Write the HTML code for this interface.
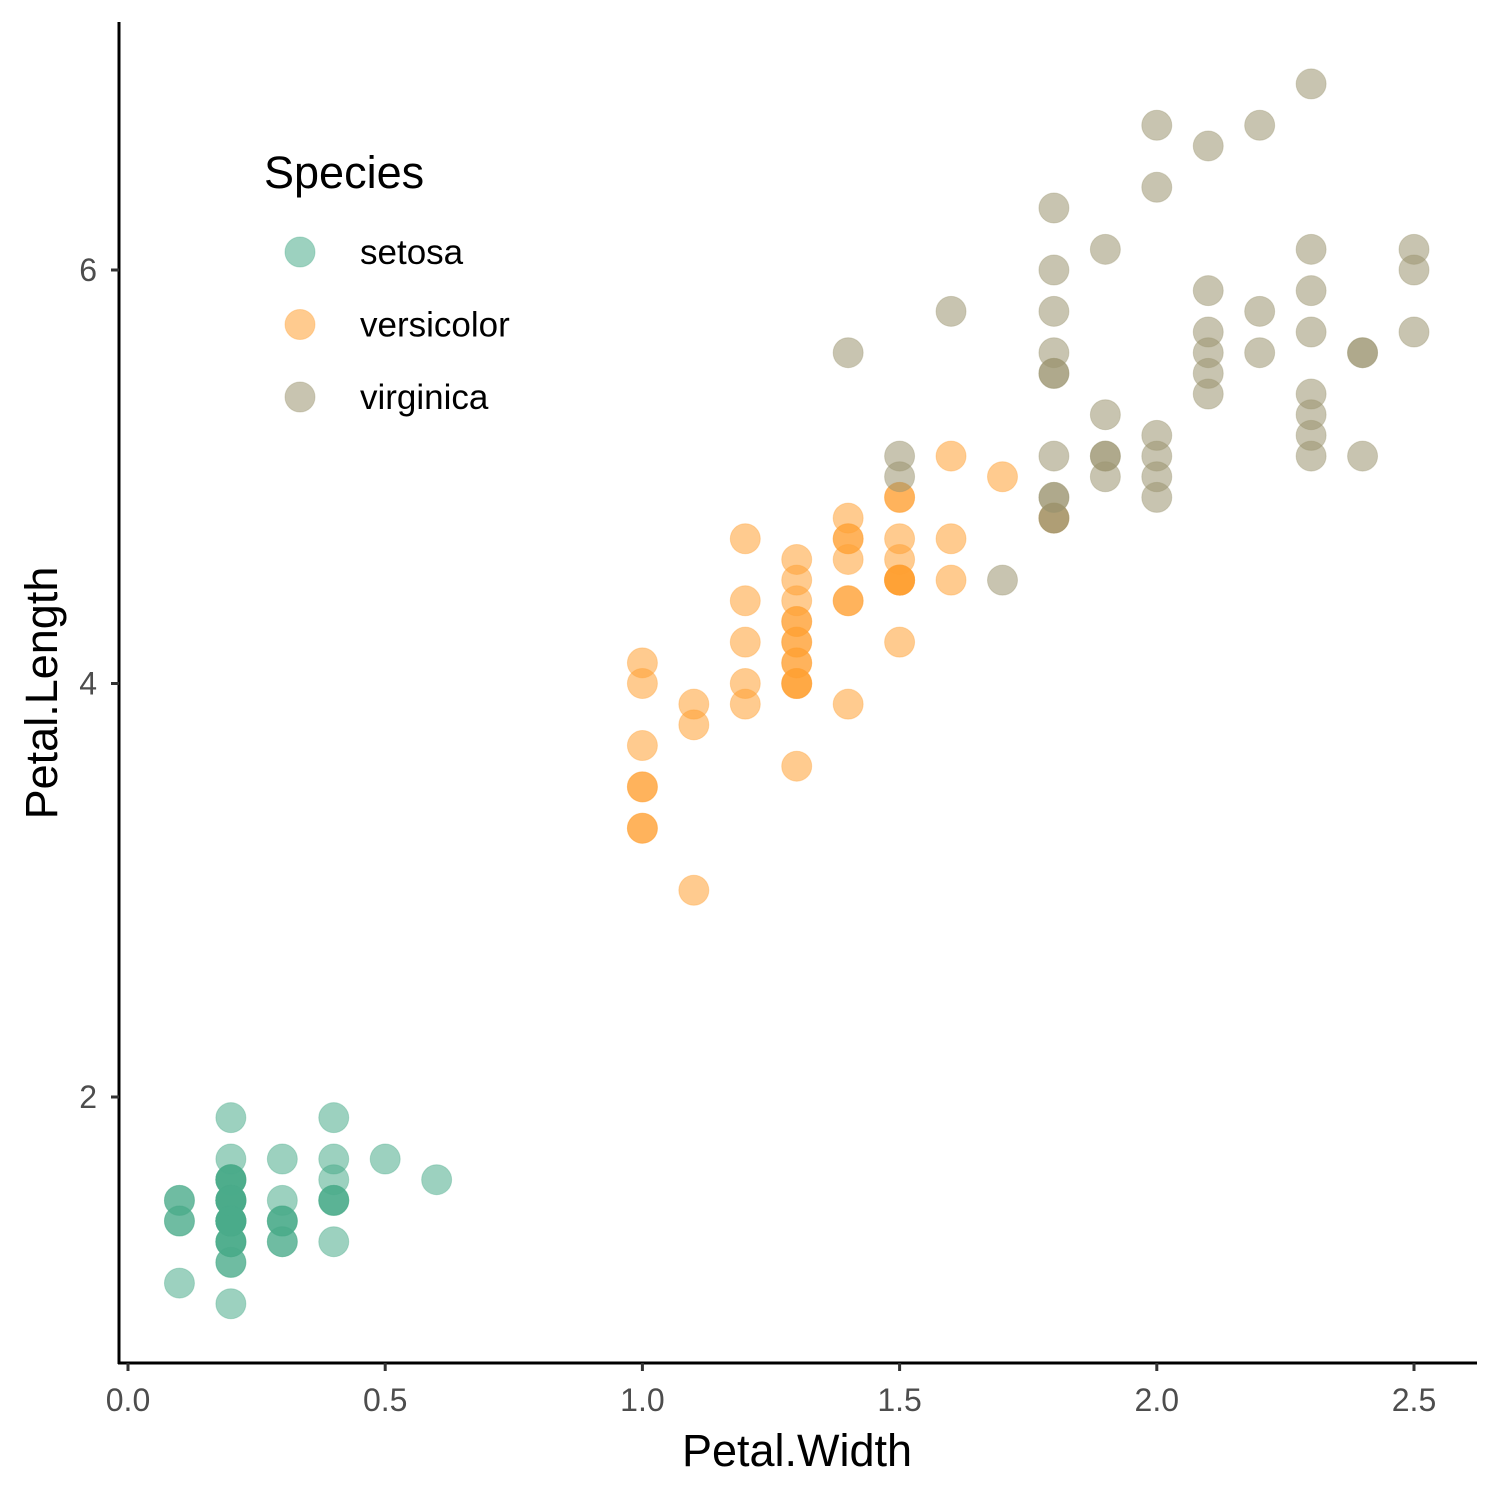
<!DOCTYPE html>
<html><head><meta charset="utf-8"><style>
body{margin:0;background:#fff}
svg{display:block;font-family:"Liberation Sans",Arial,sans-serif}
</style></head><body>
<svg id="chart" width="1500" height="1500" viewBox="0 0 1500 1500">
<rect width="1500" height="1500" fill="#fff"/>
<g id="points"></g>
<g id="axes"></g>
<text x="797" y="1466" font-size="45" text-anchor="middle" fill="#000">Petal.Width</text>
<text transform="translate(57,693) rotate(-90)" font-size="45" text-anchor="middle" fill="#000">Petal.Length</text>
<g>
<text x="264" y="188" font-size="45" fill="#000">Species</text>
<g id="legend-items"></g>
</g>
</svg>
<script>
const species = ["setosa","versicolor","virginica"];
const colors = ["#4BAC8A","#FFA133","#9B9470"];
const setosaW = [.2,.2,.2,.2,.2,.4,.3,.2,.2,.1,.2,.2,.1,.1,.2,.4,.4,.3,.3,.3,.2,.4,.2,.5,.2,.2,.4,.2,.2,.2,.2,.4,.1,.2,.2,.2,.2,.1,.2,.2,.3,.3,.2,.6,.4,.3,.2,.2,.2,.2];
const setosaL = [1.4,1.4,1.3,1.5,1.4,1.7,1.4,1.5,1.4,1.5,1.5,1.6,1.4,1.1,1.2,1.5,1.3,1.4,1.7,1.5,1.7,1.5,1.0,1.7,1.9,1.6,1.6,1.5,1.4,1.6,1.6,1.5,1.5,1.4,1.5,1.2,1.3,1.4,1.3,1.5,1.3,1.3,1.3,1.6,1.9,1.4,1.6,1.4,1.5,1.4];
const versiW = [1.4,1.5,1.5,1.3,1.5,1.3,1.6,1.0,1.3,1.4,1.0,1.5,1.0,1.4,1.3,1.4,1.5,1.0,1.5,1.1,1.8,1.3,1.5,1.2,1.3,1.4,1.4,1.7,1.5,1.0,1.1,1.0,1.2,1.6,1.5,1.6,1.5,1.3,1.3,1.3,1.2,1.4,1.2,1.0,1.3,1.2,1.3,1.3,1.1,1.3];
const versiL = [4.7,4.5,4.9,4.0,4.6,4.5,4.7,3.3,4.6,3.9,3.5,4.2,4.0,4.7,3.6,4.4,4.5,4.1,4.5,3.9,4.8,4.0,4.9,4.7,4.3,4.4,4.8,5.0,4.5,3.5,3.8,3.7,3.9,5.1,4.5,4.5,4.7,4.4,4.1,4.0,4.4,4.6,4.0,3.3,4.2,4.2,4.2,4.3,3.0,4.1];
const virgW = [2.5,1.9,2.1,1.8,2.2,2.1,1.7,1.8,1.8,2.5,2.0,1.9,2.1,2.0,2.4,2.3,1.8,2.2,2.3,1.5,2.3,2.0,2.0,1.8,2.1,1.8,1.8,1.8,2.1,1.6,1.9,2.0,2.2,1.5,1.4,2.3,2.4,1.8,1.8,2.1,2.4,2.3,1.9,2.3,2.5,2.3,1.9,2.0,2.3,1.8];
const virgL = [6.0,5.1,5.9,5.6,5.8,6.6,4.5,6.3,5.8,6.1,5.1,5.3,5.5,5.0,5.1,5.3,5.5,6.7,6.9,5.0,5.7,4.9,6.7,4.9,5.7,6.0,4.8,4.9,5.6,5.8,6.1,6.4,5.6,5.1,5.6,6.1,5.6,5.5,4.8,5.4,5.6,5.1,5.1,5.9,5.7,5.2,5.0,5.2,5.4,5.1];
const xTicks = [0.0,0.5,1.0,1.5,2.0,2.5];
const xTickLabels = ["0.0","0.5","1.0","1.5","2.0","2.5"];
const yTicks = [2,4,6];
const yTickLabels = ["2","4","6"];

const NS="http://www.w3.org/2000/svg";
function sx(v){return 128 + v*514.4;}
function sy(v){return 1510.5 - v*206.75;}
function mk(tag,attrs,parent){const e=document.createElementNS(NS,tag);for(const k in attrs)e.setAttribute(k,attrs[k]);parent.appendChild(e);return e;}

const pts=document.getElementById('points');
const series=[[setosaW,setosaL],[versiW,versiL],[virgW,virgL]];
series.forEach((s,si)=>{
  s[0].forEach((w,i)=>{
    const c=mk('circle',{cx:sx(w),cy:sy(s[1][i]),r:15,fill:colors[si],'fill-opacity':0.55,stroke:colors[si],'stroke-opacity':0.35,'stroke-width':1},pts);
    
    
  });
});

const ax=document.getElementById('axes');
let l=mk('line',{x1:119,y1:22,x2:119,y2:1364,stroke:'#000','stroke-width':3},ax);


l=mk('line',{x1:118,y1:1363,x2:1477,y2:1363,stroke:'#000','stroke-width':3},ax);


xTicks.forEach((v,i)=>{
  const t=mk('line',{x1:sx(v),y1:1363,x2:sx(v),y2:1371,stroke:'#333','stroke-width':3},ax);
  
  
  const tx=mk('text',{x:sx(v),y:1411,'font-size':32,'text-anchor':'middle',fill:'#4D4D4D'},ax);
  tx.textContent=xTickLabels[i];
  
  
});
yTicks.forEach((v,i)=>{
  const t=mk('line',{x1:111,y1:sy(v),x2:119,y2:sy(v),stroke:'#333','stroke-width':3},ax);
  
  
  const tx=mk('text',{x:97,y:sy(v)+11,'font-size':32,'text-anchor':'end',fill:'#4D4D4D'},ax);
  tx.textContent=yTickLabels[i];
  
  
});

const lg=document.getElementById('legend-items');
species.forEach((s,i)=>{
  const y=252+i*72.5;
  const c=mk('circle',{cx:300,cy:y,r:15,fill:colors[i],'fill-opacity':0.55,stroke:colors[i],'stroke-opacity':0.35},lg);
  
  
  const t=mk('text',{x:360,y:y+12,'font-size':35,fill:'#000'},lg);
  t.textContent=s;
  
  
});
</script>
</body></html>
